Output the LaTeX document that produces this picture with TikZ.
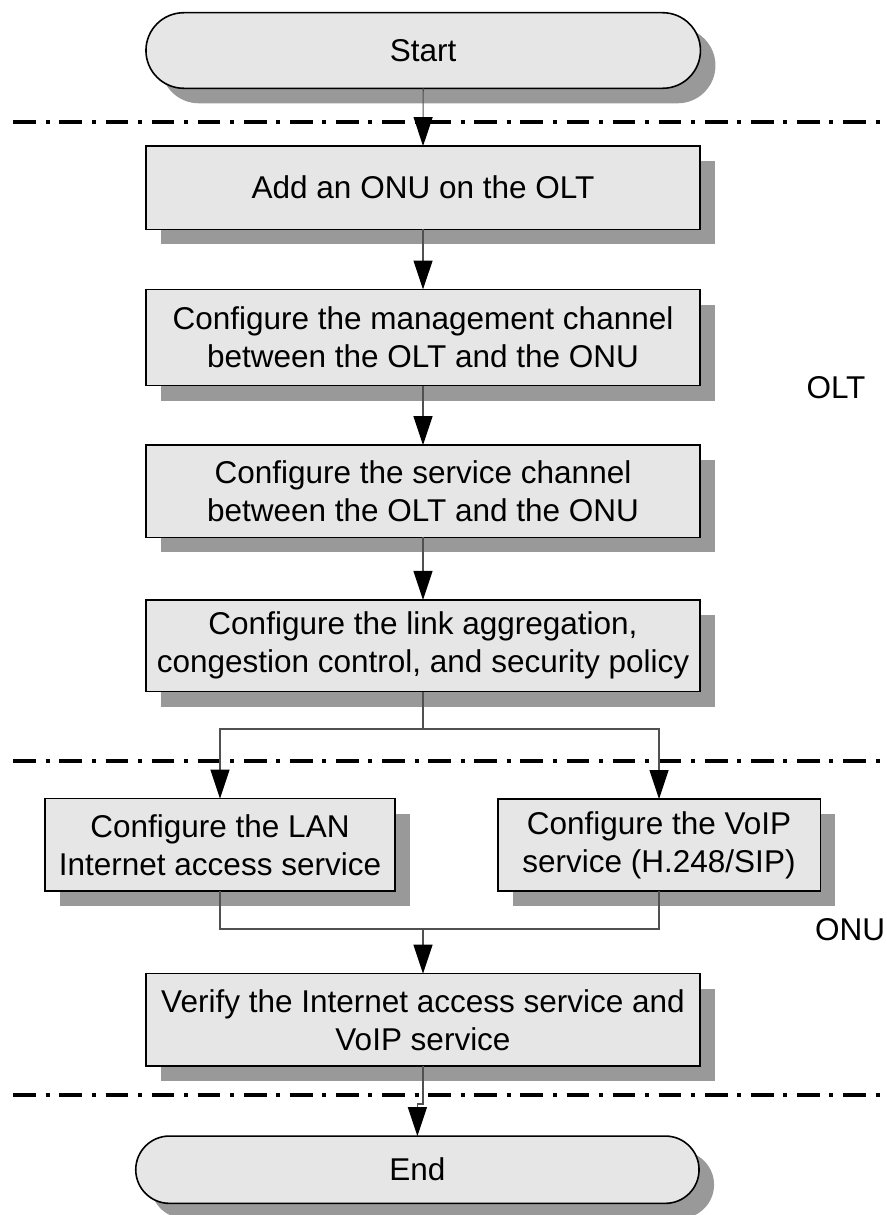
\documentclass[tikz,border=0pt]{standalone}
\usepackage{fontspec}
\setmainfont{Liberation Sans}
\usetikzlibrary{arrows.meta,shapes.misc,shadows}
\definecolor{boxfill}{HTML}{E6E6E6}
\definecolor{shadowgray}{HTML}{999999}
\definecolor{linkgray}{HTML}{505050}
\begin{document}
\begin{tikzpicture}[x=1pt,y=-1pt,
  font=\fontsize{31.5}{38}\selectfont,
  every node/.style={inner sep=0pt, outer sep=0pt},
  boxshadow/.style={drop shadow={shadow xshift=15pt, shadow yshift=-15pt, fill=shadowgray, opacity=1}},
  stepbox/.style={rectangle, draw=black, line width=1.6pt, fill=boxfill, align=center, boxshadow},
  terminal/.style={rounded rectangle, draw=black, line width=1.6pt, fill=boxfill, boxshadow},
  link/.style={draw=linkgray, line width=1.2pt},
  flow/.style={link, -{Triangle[length=29pt,width=19pt,color=black]}},
  zone/.style={draw=black, line width=4pt, dash pattern=on 22.7pt off 9.7pt on 4pt off 9.7pt},
  zonelabel/.style={text=black}]
\useasboundingbox (0,0) rectangle (886,1215);

% zone separators
\draw[zone] (13.3,121.7) -- (886,121.7);
\draw[zone] (13.3,760.7) -- (886,760.7);
\draw[zone] (13.3,1095) -- (886,1095);

% steps
\node[terminal, minimum width=554.5pt, minimum height=75.6pt] (start) at (423.2,50.5) {Start};
\node[stepbox, minimum width=554pt, minimum height=83.3pt] (addonu) at (423,187.7) {Add an ONU on the OLT};
\node[stepbox, minimum width=554pt, minimum height=96pt] (mgmt) at (423,337.5)
  {Configure the management channel\\between the OLT and the ONU};
\node[stepbox, minimum width=554pt, minimum height=92.3pt] (svc) at (423,491.2)
  {Configure the service channel\\between the OLT and the ONU};
\node[stepbox, minimum width=554pt, minimum height=91.7pt] (policy) at (423,645.8)
  {Configure the link aggregation,\\congestion control, and security policy};
\node[stepbox, minimum width=350pt, minimum height=92.5pt] (lan) at (220,844.8)
  {Configure the LAN\\Internet access service};
\node[stepbox, minimum width=322.6pt, minimum height=92pt] (voip) at (659,845)
  {Configure the VoIP\\service (H.248/SIP)};
\node[stepbox, minimum width=553.5pt, minimum height=92.5pt] (verify) at (423,1019.8)
  {Verify the Internet access service and\\VoIP service};
\node[terminal, minimum width=563.3pt, minimum height=67.3pt] (finish) at (417.4,1169.7) {End};

% zone names
\node[zonelabel] (olt) at (836,388) {OLT};
\node[zonelabel] (onu) at (850,930) {ONU};

% connectors
\coordinate (split) at (423,729);
\coordinate (merge) at (423,929);
\coordinate (jog) at (423,1104);
\draw[flow] (start) -- (addonu);
\draw[flow] (addonu) -- (mgmt);
\draw[flow] (mgmt) -- (svc);
\draw[flow] (svc) -- (policy);
\draw[link] (policy.south) -- (split);
\draw[flow] (split) -| (lan.north);
\draw[flow] (split) -| (voip.north);
\draw[link] (lan.south) |- (merge);
\draw[link] (voip.south) |- (merge);
\draw[flow] (merge) -- (verify.north);
\draw[flow] (verify.south) -- (jog) -| (finish.north);
\end{tikzpicture}
\end{document}
